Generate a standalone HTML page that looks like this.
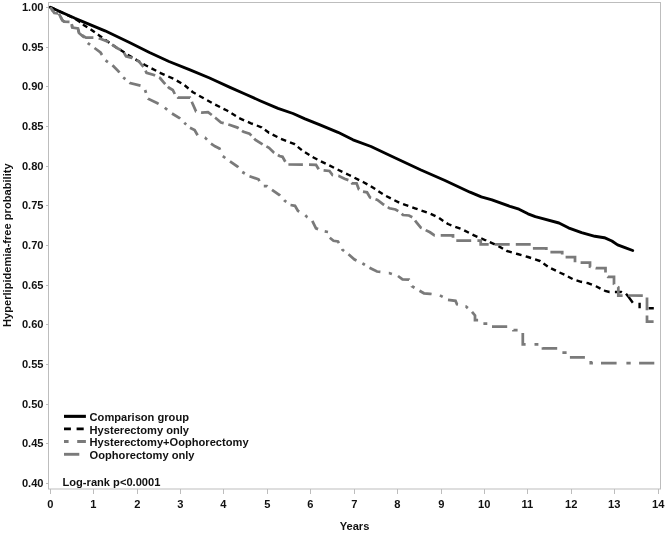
<!DOCTYPE html>
<html><head><meta charset="utf-8"><title>Hyperlipidemia-free probability</title>
<style>html,body{margin:0;padding:0;background:#fff}svg{display:block}</style></head>
<body><svg width="666" height="533" viewBox="0 0 666 533">
<rect width="666" height="533" fill="#fff"/>
<rect x="48.5" y="2.5" width="612.0" height="486.5" fill="none" stroke="#bdbdbd" stroke-width="1"/>
<path d="M50.5 489V494M93.5 489V494M137.5 489V494M180.5 489V494M223.5 489V494M267.5 489V494M310.5 489V494M354.5 489V494M397.5 489V494M441.5 489V494M484.5 489V494M527.5 489V494M571.5 489V494M614.5 489V494M658.5 489V494M46.0 7.5H48.5M46.0 47.5H48.5M46.0 86.5H48.5M46.0 126.5H48.5M46.0 166.5H48.5M46.0 205.5H48.5M46.0 245.5H48.5M46.0 285.5H48.5M46.0 324.5H48.5M46.0 364.5H48.5M46.0 404.5H48.5M46.0 443.5H48.5M46.0 483.5H48.5" stroke="#bdbdbd" stroke-width="1" fill="none"/>
<g font-family="'Liberation Sans', sans-serif" font-weight="bold" font-size="11.12" fill="#111"><text x="50.30" y="508.4" text-anchor="middle">0</text><text x="93.30" y="508.4" text-anchor="middle">1</text><text x="137.30" y="508.4" text-anchor="middle">2</text><text x="180.30" y="508.4" text-anchor="middle">3</text><text x="223.30" y="508.4" text-anchor="middle">4</text><text x="267.30" y="508.4" text-anchor="middle">5</text><text x="310.30" y="508.4" text-anchor="middle">6</text><text x="354.30" y="508.4" text-anchor="middle">7</text><text x="397.30" y="508.4" text-anchor="middle">8</text><text x="441.30" y="508.4" text-anchor="middle">9</text><text x="484.30" y="508.4" text-anchor="middle">10</text><text x="527.30" y="508.4" text-anchor="middle">11</text><text x="571.30" y="508.4" text-anchor="middle">12</text><text x="614.30" y="508.4" text-anchor="middle">13</text><text x="658.30" y="508.4" text-anchor="middle">14</text><text x="43.5" y="10.50" text-anchor="end">1.00</text><text x="43.5" y="50.50" text-anchor="end">0.95</text><text x="43.5" y="89.50" text-anchor="end">0.90</text><text x="43.5" y="129.50" text-anchor="end">0.85</text><text x="43.5" y="169.50" text-anchor="end">0.80</text><text x="43.5" y="208.50" text-anchor="end">0.75</text><text x="43.5" y="248.50" text-anchor="end">0.70</text><text x="43.5" y="288.50" text-anchor="end">0.65</text><text x="43.5" y="327.50" text-anchor="end">0.60</text><text x="43.5" y="367.50" text-anchor="end">0.55</text><text x="43.5" y="407.50" text-anchor="end">0.50</text><text x="43.5" y="446.50" text-anchor="end">0.45</text><text x="43.5" y="486.50" text-anchor="end">0.40</text><text x="354.5" y="530" text-anchor="middle">Years</text><text transform="translate(10.9 245.2) rotate(-90)" text-anchor="middle">Hyperlipidemia-free probability</text><text x="89.6" y="421">Comparison group</text><text x="89.6" y="433.6">Hysterectomy only</text><text x="89.6" y="446.2">Hysterectomy+Oophorectomy</text><text x="89.6" y="458.7">Oophorectomy only</text><text x="62.5" y="485.8">Log-rank p&lt;0.0001</text></g>
<path d="M64 416.35H85.9" stroke="#000" stroke-width="3.1"/>
<path d="M64 428.9H70.9M76.6 428.9H83.7" stroke="#000" stroke-width="2.9"/>
<path d="M64 441.5H68.6M77.2 441.5H85.9" stroke="#7a7a7a" stroke-width="2.9"/>
<path d="M64 454.3H79.3" stroke="#7a7a7a" stroke-width="2.9"/>
<polyline points="50.3,7.2 75,18.3 105,30.8 130,42.8 149.5,52.5 169,61.5 190,69.8 209.6,78 215,80.5 230,87.4 245,94 260,100.7 278,108.3 293,113.5 305,118.8 320,124.8 338,132.3 353,139.8 371,146.5 390,155.5 421,170 445,180.5 470,192.2 481.3,196.9 492,199.8 501,203.2 510,206.4 519,209.2 528,213.8 535.3,216.6 540,217.8 559,223 568.4,227.8 581.6,232.6 594.9,236.3 604.3,237.7 611.9,241 617.6,244.9 625,247.7 632.7,250.5" fill="none" stroke="#000" stroke-width="2.9" stroke-linejoin="round" stroke-linecap="round"/>
<path d="M50.3 7.2L55.2 9.4M58.8 11.1L63.7 13.4M67.4 15.1L72.3 17.3M75.8 19.2L80.0 22.0L80.1 22.0M83.0 24.4L84.0 25.2L87.3 27.3M90.6 29.3L91.2 29.7L94.8 32.3M97.9 34.6L98.5 35.0L102.1 37.5M105.2 39.7L109.4 42.7M112.5 44.9L112.6 45.0L116.8 47.7M120.1 49.8L124.5 52.6M127.7 54.7L129.0 55.5L132.2 57.4M135.5 59.4L140.0 62.0M143.4 64.0L145.0 65.0L148.0 66.5M151.5 68.4L156.2 70.8M159.7 72.7L160.0 72.8L164.6 74.9M168.3 76.5L173.3 78.7M176.8 80.6L181.3 83.2M184.6 85.3L188.5 88.5M191.4 91.0L193.0 92.3L195.7 93.8M199.1 95.7L203.7 98.3M207.2 100.2L211.7 102.7M215.2 104.6L220.0 107.0M223.5 108.8L227.0 110.5L228.2 111.2M231.5 113.3L235.9 116.0M239.2 118.1L244.1 120.3M247.9 121.9L251.0 123.3L252.9 124.0M256.8 125.5L261.5 127.3L261.8 127.6M264.9 129.8L269.0 132.8L269.1 132.8M272.6 134.6L277.4 137.0M281.0 138.8L281.0 138.8L286.1 140.8M290.0 142.3L294.0 143.8L294.9 144.5M297.8 146.9L301.8 150.1M305.0 152.2L309.4 154.9M312.7 157.0L314.0 157.8L317.4 159.5M320.9 161.3L325.7 163.6M329.3 165.4L334.0 167.8M337.6 169.6L338.0 169.8L342.4 171.9M346.1 173.6L349.0 175.0L350.9 175.9M354.5 177.7L359.2 180.1M362.8 181.9L364.0 182.5L367.4 184.4M370.8 186.3L375.2 189.1M378.4 191.2L382.7 194.0M386.1 196.0L390.8 198.4M394.4 200.2L399.2 202.6M403.1 204.1L408.3 205.9M412.3 207.3L415.0 208.3L417.6 209.2M421.5 210.6L426.8 212.4M430.7 213.9L435.5 216.2M439.1 218.0L443.3 220.9M446.6 223.0L448.0 224.0L451.4 225.3M455.3 226.8L460.5 228.7M464.2 230.4L468.9 232.8M472.5 234.6L474.0 235.3L477.4 236.8M481.2 238.4L486.0 240.5L486.1 240.6M489.8 242.2L494.8 244.4M498.5 246.1L503.0 248.7M506.4 250.6L507.0 251.0L511.8 252.4M516.0 253.6L517.5 254.0L521.5 255.1M525.7 256.3L528.0 257.0L531.1 258.0M535.1 259.4L540.0 261.0L540.4 261.3M543.5 263.5L547.7 266.4M551.1 268.4L555.9 270.7M559.5 272.5L564.4 274.7M567.9 276.5L572.6 279.0M576.5 280.4L581.0 281.8L582.1 282.0M586.5 282.9L588.5 283.3L591.9 284.7M595.8 286.2L596.0 286.3L600.5 288.6M604.1 290.3L605.0 290.8L609.5 292.0L609.6 292.0M614.9 292.0L621.5 292.0L621.9 292.2M626.0 293.8L629.0 297.5L632.8 302.8L632.8 302.8M639.6 302.8L639.6 308.2M648.6 308.3L653.8 308.3" fill="none" stroke="#000" stroke-width="2.4" stroke-linejoin="round"/>
<path d="M51.7 9.2L53.3 11.5M58.9 13.6L62.4 20.3L64.2 21.6L65.2 21.7M71.7 24.1L72.3 27.5M78.1 29.4L79.0 33.0L84.3 37.5M87.8 43.0L88.5 43.6L90.1 44.7M94.5 48.0L94.5 48.0L100.5 52.5L102.0 55.0M105.6 60.4L107.9 62.1M112.5 65.3L112.5 65.3L118.5 71.3L119.4 72.5M123.2 77.5L125.4 79.2M129.5 82.6L130.0 83.0L140.5 85.7L140.5 85.7M145.1 90.0L146.0 92.9M147.9 98.6L148.0 98.7L157.0 103.0L158.6 103.9M164.8 107.7L167.2 109.7M172.0 113.5L179.5 118.0L180.1 118.6M184.3 122.8L184.8 123.3L186.2 124.5M190.0 127.8L194.6 130.0L197.6 135.3M204.8 137.5L205.0 137.6L207.0 139.6M211.0 143.6L215.0 146.3L219.5 148.5L220.0 149.7M222.8 156.2L225.3 158.0M230.0 161.3L237.5 166.5L238.2 167.3M242.3 172.0L244.8 173.5M249.5 176.3L258.5 179.3L259.4 181.2M263.8 186.0L266.8 186.0L267.4 186.5M272.0 189.8L279.5 195.0L280.0 195.6M284.2 200.1L284.5 200.5L286.3 201.8M290.5 205.0L295.0 205.8L298.0 211.0L299.3 211.6M305.3 215.3L307.0 217.0L307.5 217.3M312.3 220.8L316.0 228.3L318.1 229.1M324.7 231.4L328.0 232.0L328.0 232.0M329.8 237.8L333.5 240.8L338.0 241.5L338.9 243.1M342.1 249.0L342.5 249.8L344.1 251.0M348.5 254.3L354.5 259.5L356.5 260.5M362.4 263.4L363.5 264.0L364.9 264.9M369.5 267.8L377.0 271.5L380.4 271.9M388.8 273.0L389.0 273.0L391.9 274.0M398.0 276.0L402.5 279.4L409.0 279.6L409.1 279.8M412.0 286.2L412.0 286.3L414.5 287.8M419.5 290.8L424.0 293.3L430.0 293.8L431.6 294.0M439.9 295.4L442.7 296.9M448.0 299.8L455.5 300.8L457.0 304.3L458.0 304.5M465.4 306.4L466.0 306.5L467.8 308.1M472.0 311.8L475.0 315.5L475.0 320.0L478.1 320.0M483.4 323.7L487.3 323.7M492.0 326.7L507.2 326.7M513.5 329.9L513.5 330.0L517.6 330.0M522.8 333.0L522.8 344.3L525.6 344.3M534.5 344.3L538.4 344.3M543.0 347.3L543.0 348.3L557.2 348.3M562.4 352.6L566.6 352.6M569.9 357.4L584.9 357.4M590.8 361.0L590.8 363.0L592.9 363.0M601.0 363.0L616.6 363.0M626.4 363.0L630.7 363.0M639.1 363.0L654.3 363.0" fill="none" stroke="#7a7a7a" stroke-width="2.75" stroke-linejoin="miter"/>
<path d="M50.3 7.2L54.3 13.0L58.1 13.4M60.5 16.8L62.4 20.3L64.2 21.6L69.5 21.9M71.9 25.2L72.3 27.5L78.0 28.5L78.9 32.3M81.9 35.1L84.0 36.5L86.0 37.6L93.4 37.6M98.7 38.2L101.0 39.0L108.0 41.8L108.6 42.2M112.1 44.6L117.0 48.0L120.8 49.9M123.9 52.6L126.0 56.3L132.0 57.8L132.5 58.1M136.3 60.1L139.0 61.5L143.5 66.8L143.5 66.8M145.5 70.7L146.5 72.8L154.0 75.0L155.1 75.6M159.1 77.6L160.0 78.0L164.5 83.3L165.3 84.1M167.9 86.7L169.0 87.8L172.8 90.0L174.8 94.0M177.5 97.1L178.0 97.6L190.0 97.6L190.1 97.8M191.8 101.7L192.3 103.0L196.0 111.3L196.3 111.4M201.1 112.4L202.0 112.6L208.0 112.2L211.8 115.0L211.8 115.0M215.1 117.6L215.6 118.0L221.0 122.5L223.7 123.2M228.3 124.5L230.0 125.0L237.5 127.6L238.6 128.3M242.0 130.8L243.5 131.8L249.5 133.6L251.4 135.6M254.2 138.6L255.5 140.0L262.6 144.4M266.4 146.4L269.0 147.8L273.5 152.3L274.2 152.8M277.9 155.0L279.5 156.0L282.5 156.8L285.3 161.7M288.4 164.5L302.9 164.7M309.0 164.7L316.0 164.8L318.7 169.3M323.6 170.3L329.5 171.0L332.5 175.0L333.1 175.1M338.4 175.8L338.5 175.8L344.5 178.8L348.4 180.1M351.5 182.8L352.0 183.3L356.6 183.3L358.8 189.3L359.2 189.5M363.0 191.6L367.0 192.3L370.0 197.5L371.1 197.9M375.5 199.3L377.5 200.0L383.5 204.5L384.2 204.9M387.8 207.2L389.5 208.3L395.5 209.5L398.3 211.1M401.7 213.7L403.0 215.0L409.0 215.5L412.3 217.3M415.1 220.4L416.5 222.5L421.0 227.8L421.7 228.1M425.7 230.1L430.0 232.3L434.5 235.3L434.8 235.3M440.7 235.3L453.0 235.3L453.0 237.8M456.3 240.7L471.2 240.7M477.4 240.7L480.7 240.7L480.7 244.3L488.7 244.3M494.9 244.3L509.7 244.3M515.8 244.3L530.7 244.3M532.9 248.3L546.3 248.3L546.3 249.9M550.4 252.0L562.2 252.0L562.2 254.6M565.6 257.2L575.0 257.2L575.0 262.2M580.6 262.6L590.0 262.6L590.0 266.7L590.8 266.9M595.6 268.1L596.0 268.2L605.5 268.2L605.5 272.6M607.7 276.4L608.0 276.8L614.0 276.8L614.0 284.3L614.1 284.4M617.7 286.8L618.3 287.2L618.3 295.5L622.6 295.5M628.3 295.5L642.8 295.6M647.0 297.5L647.0 310.2M647.0 315.5L647.0 321.6L653.6 321.6" fill="none" stroke="#7a7a7a" stroke-width="2.75" stroke-linejoin="miter"/>
</svg></body></html>
